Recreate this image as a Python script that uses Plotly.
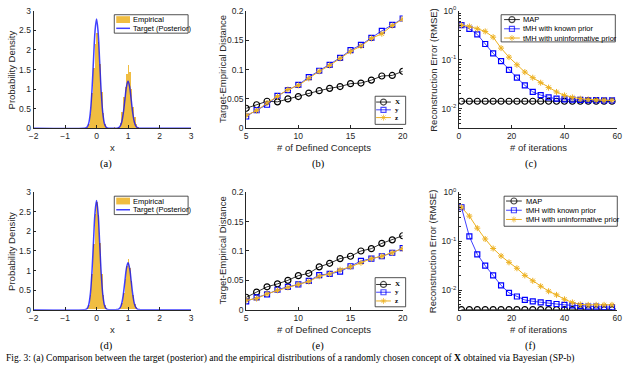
import plotly.graph_objects as go
from plotly.subplots import make_subplots

# ---- data ----
# (a)/(d) target posterior density
target_x = [-2, -0.4, -0.35, -0.3, -0.25, -0.2, -0.15, -0.1, -0.05, 0, 0.05, 0.1, 0.15, 0.2, 0.25, 0.3, 0.35, 0.4,
            0.6, 0.65, 0.7, 0.75, 0.8, 0.85, 0.9, 0.95, 1.0, 1.05, 1.1, 1.15, 1.2, 1.25, 1.3, 1.35, 1.4, 3]
target_y = [0, 0, 0.006, 0.031, 0.122, 0.378, 0.906, 1.69, 2.46, 2.79, 2.46, 1.69, 0.906, 0.378, 0.122, 0.031, 0.006, 0,
            0, 0.003, 0.013, 0.053, 0.16, 0.39, 0.73, 1.06, 1.2, 1.06, 0.73, 0.39, 0.16, 0.053, 0.013, 0.003, 0, 0]

# empirical histograms (bin centres, heights)
bins_a = [-0.35, -0.3, -0.25, -0.2, -0.15, -0.1, -0.05, 0, 0.05, 0.1, 0.15, 0.2, 0.25, 0.3, 0.35, 0.55,
          0.7, 0.75, 0.8, 0.85, 0.9, 0.95, 1.0, 1.05, 1.1, 1.15, 1.2, 1.25, 1.3]
hist_a = [0.01, 0.03, 0.12, 0.38, 0.9, 1.55, 2.15, 2.45, 2.2, 1.65, 0.92, 0.4, 0.12, 0.03, 0.01, 0.03,
          0.04, 0.15, 0.42, 0.8, 1.05, 1.4, 1.62, 1.45, 1.0, 0.55, 0.3, 0.1, 0.03]
bins_d = [-0.3, -0.25, -0.2, -0.15, -0.1, -0.05, 0, 0.05, 0.1, 0.15, 0.2, 0.25, 0.3, 0.35, 0.4, 0.45, 0.5, 0.55,
          0.6, 0.65, 0.7, 0.75, 0.8, 0.85, 0.9, 0.95, 1.0, 1.05, 1.1, 1.15, 1.2, 1.25, 1.3]
hist_d = [0.03, 0.12, 0.38, 0.9, 1.68, 2.45, 2.75, 2.4, 1.7, 0.9, 0.38, 0.12, 0.04, 0.02, 0.02, 0.02, 0.02, 0.02,
          0.02, 0.01, 0.02, 0.06, 0.17, 0.42, 0.78, 1.1, 1.3, 1.05, 0.72, 0.38, 0.15, 0.05, 0.02]

# (b)/(e) target-empirical distance vs number of concepts
concepts = list(range(5, 21))
b_X = [0.034, 0.040, 0.046, 0.045, 0.050, 0.054, 0.060, 0.064, 0.068, 0.071, 0.076, 0.077, 0.082, 0.089, 0.090, 0.097]
b_y = [0.020, 0.031, 0.040, 0.055, 0.065, 0.074, 0.087, 0.098, 0.108, 0.120, 0.133, 0.142, 0.154, 0.166, 0.176, 0.187]
b_z = [0.022, 0.030, 0.043, 0.054, 0.066, 0.073, 0.085, 0.097, 0.107, 0.119, 0.131, 0.140, 0.153, 0.161, 0.175, 0.186]
e_X = [0.021, 0.030, 0.039, 0.044, 0.050, 0.058, 0.062, 0.073, 0.079, 0.087, 0.091, 0.100, 0.104, 0.113, 0.119, 0.126]
e_y = [0.014, 0.021, 0.026, 0.034, 0.039, 0.043, 0.049, 0.059, 0.061, 0.065, 0.074, 0.083, 0.087, 0.091, 0.097, 0.105]
e_z = [0.016, 0.019, 0.027, 0.033, 0.038, 0.043, 0.048, 0.057, 0.061, 0.068, 0.073, 0.080, 0.087, 0.091, 0.097, 0.104]

# (c)/(f) reconstruction error vs iterations
iters = [1, 4, 7, 10, 13, 16, 19, 22, 25, 28, 31, 34, 37, 40, 43, 46, 49, 52, 55, 58]
c_map = [0.0142] * 20
c_known = [0.51, 0.43, 0.33, 0.21, 0.135, 0.094, 0.062, 0.043, 0.030, 0.022, 0.019, 0.017, 0.016, 0.0155, 0.0153,
           0.0151, 0.015, 0.0149, 0.0148, 0.0148]
c_uninf = [0.51, 0.48, 0.43, 0.38, 0.29, 0.173, 0.113, 0.079, 0.056, 0.043, 0.034, 0.027, 0.022, 0.0187, 0.017,
           0.016, 0.0155, 0.015, 0.0149, 0.0148]
f_map = [0.004] * 20
f_known = [0.495, 0.125, 0.054, 0.0316, 0.020, 0.0125, 0.0088, 0.0074, 0.0063, 0.0059, 0.0056, 0.0054, 0.0052,
           0.005, 0.0049, 0.0047, 0.0046, 0.0046, 0.0045, 0.0045]
f_uninf = [0.495, 0.326, 0.185, 0.111, 0.071, 0.050, 0.037, 0.028, 0.020, 0.0155, 0.012, 0.0095, 0.0080, 0.0065,
           0.0056, 0.0051, 0.005, 0.005, 0.005, 0.005]

W, H = 640, 370
ORANGE = "#EDB120"
BLUE = "rgba(0,0,255,0.75)"
AX = "#262626"
SANS = "Liberation Sans"
SERIF = "Liberation Serif"


def px(x):
    return x / W


def py(y):
    return 1 - y / H


# trace styles
STY = {
    "black": dict(line=dict(color="rgba(0,0,0,0.8)", width=1),
                  marker=dict(symbol="circle-open", size=6, color="black", line=dict(width=1.2))),
    "blue": dict(line=dict(color=BLUE, width=1),
                 marker=dict(symbol="square-open", size=5, color="blue", line=dict(width=1.2))),
    "orange": dict(line=dict(color=ORANGE, width=1),
                   marker=dict(symbol="asterisk-open", size=5, color=ORANGE, line=dict(width=1, color=ORANGE))),
}

fig = make_subplots(rows=2, cols=3)

for r, (hx, hy) in enumerate([(bins_a, hist_a), (bins_d, hist_d)]):
    fig.add_trace(go.Bar(x=hx, y=hy, width=0.05, name="Empirical",
                         marker=dict(color="rgba(237,177,32,0.85)", line=dict(width=0))), row=r + 1, col=1)
    fig.add_trace(go.Scatter(x=target_x, y=target_y, mode="lines", name="Target (Posterior)",
                             line=dict(color=BLUE, width=1.5, shape="spline")), row=r + 1, col=1)

for r, series in enumerate([(b_X, b_y, b_z), (e_X, e_y, e_z)]):
    for vals, st in zip(series, ["black", "blue", "orange"]):
        fig.add_trace(go.Scatter(x=concepts, y=vals, mode="lines+markers", **STY[st]), row=r + 1, col=2)

for r, series in enumerate([(c_map, c_known, c_uninf), (f_map, f_known, f_uninf)]):
    for vals, st in zip(series, ["black", "blue", "orange"]):
        fig.add_trace(go.Scatter(x=iters, y=vals, mode="lines+markers", **STY[st]), row=r + 1, col=3)

# axis placement (pixels -> paper)
cols_px = [(29, 189), (245, 404), (461, 622)]
rows_px = [(5, 126), (192, 313)]
axis_common = dict(showline=True, linecolor=AX, linewidth=0.8, ticks="inside", ticklen=3, tickcolor=AX,
                   showgrid=False, zeroline=False, tickfont=dict(family=SANS, size=8.5, color=AX))
n = 0
for r in range(2):
    for c in range(3):
        n += 1
        xa = "xaxis" if n == 1 else f"xaxis{n}"
        ya = "yaxis" if n == 1 else f"yaxis{n}"
        x0, x1 = cols_px[c]
        y0, y1 = rows_px[r]
        xd = dict(axis_common, domain=[px(x0), px(x1)])
        yd = dict(axis_common, domain=[py(y1), py(y0)])
        if c == 0:
            xd.update(range=[-2, 3], tickvals=[-2, -1, 0, 1, 2, 3])
            yd.update(range=[0, 3], tickvals=[0, 0.5, 1, 1.5, 2, 2.5, 3])
        elif c == 1:
            xd.update(range=[5, 20], tickvals=[5, 10, 15, 20])
            yd.update(range=[0, 0.2], tickvals=[0, 0.05, 0.1, 0.15, 0.2])
        else:
            xd.update(range=[0, 60], tickvals=[0, 20, 40, 60])
            yd.update(type="log", range=[-2.4, 0], tickvals=[0.01, 0.1, 1],
                      ticktext=["10<sup>-2</sup>", "10<sup>-1</sup>", "10<sup>0</sup>"],
                      minor=dict(ticks="inside", ticklen=2, tickcolor=AX, dtick="D1"))
        fig.layout[xa].update(xd)
        fig.layout[ya].update(yd)

# overlay axis in pixel units, used only for the legend keys
fig.update_layout(
    xaxis7=dict(domain=[0, 1], range=[0, W], visible=False, anchor="y7", fixedrange=True),
    yaxis7=dict(domain=[0, 1], range=[H, 0], visible=False, anchor="x7", fixedrange=True),
)

ann = []
shapes = []
lab_font = dict(family=SANS, size=9.5, color=AX)
xtitles = ["x", "# of Defined Concepts", "# of iterations"]
ytitles = ["Probability Density", "Target-Empirical Distance", "Reconstruction Error (RMSE)"]
ytitle_px = [7, 221, 435]
sub_px = [103, 318, 534]
letters = ["(a)", "(b)", "(c)", "(d)", "(e)", "(f)"]


def note(x, y, text, font, **kw):
    d = dict(x=px(x), y=py(y), text=text, showarrow=False, xref="paper", yref="paper",
             xanchor="center", yanchor="middle", font=font)
    d.update(kw)
    ann.append(d)


for r in range(2):
    y0, y1 = rows_px[r]
    for c in range(3):
        x0, x1 = cols_px[c]
        note((x0 + x1) / 2, y1 + 20, xtitles[c], lab_font)
        note(ytitle_px[c], (y0 + y1) / 2, ytitles[c], lab_font, textangle=-90)
        note(sub_px[c], y1 + 37, letters[r * 3 + c], dict(family=SERIF, size=10.5, color="black"))

# caption line at the bottom edge
note(0, 370, "Fig. 3: (a) Comparison between the target (posterior) and the empirical distributions of a randomly "
             "chosen concept of <b>X</b> obtained via Bayesian (SP-b)",
     dict(family=SERIF, size=9.5, color="black"), xanchor="left", yanchor="bottom", borderpad=0)

# legends: box (x0, y0, x1, y1), key start/end, text x, row y list, entries
leg_font = dict(family=SANS, size=7.5, color="black")
leg_serif = dict(family=SERIF, size=7, color="black")
legend_specs = [
    ((111, 9, 186, 28), (113, 127), 129, [14, 23], [("bar", "Empirical"), ("target", "Target (Posterior)")], leg_font),
    ((111, 196, 186, 215), (113, 127), 129, [201, 210], [("bar", "Empirical"), ("target", "Target (Posterior)")], leg_font),
    ((376, 93, 407, 122), (377, 392), 395, [99, 107, 115],
     [("black", "<b>X</b>"), ("blue", "<b>y</b>"), ("orange", "<b>z</b>")], leg_serif),
    ((376, 280, 407, 310), (377, 392), 395, [287, 295, 304],
     [("black", "<b>X</b>"), ("blue", "<b>y</b>"), ("orange", "<b>z</b>")], leg_serif),
    ((504, 9, 620, 37), (507, 523), 525, [14, 23.5, 33],
     [("black", "MAP"), ("blue", "tMH with known prior"), ("orange", "tMH with uninformative prior")], leg_font),
    ((507, 196, 622, 227), (509, 525), 528, [201, 210.5, 220],
     [("black", "MAP"), ("blue", "tMH with known prior"), ("orange", "tMH with uninformative prior")], leg_font),
]
for (bx0, by0, bx1, by1), (kx0, kx1), tx, rows, entries, fnt in legend_specs:
    shapes.append(dict(type="rect", xref="paper", yref="paper", x0=px(bx0), x1=px(bx1), y0=py(by1), y1=py(by0),
                       line=dict(color=AX, width=0.8), fillcolor="white", layer="below"))
    for ry, (kind, label) in zip(rows, entries):
        if kind == "bar":
            shapes.append(dict(type="rect", xref="paper", yref="paper", x0=px(kx0), x1=px(kx1),
                               y0=py(ry + 3.5), y1=py(ry - 3.5), line=dict(width=0),
                               fillcolor="rgba(237,177,32,0.85)", layer="above"))
        elif kind == "target":
            fig.add_trace(go.Scatter(x=[kx0, kx1], y=[ry, ry], mode="lines", xaxis="x7", yaxis="y7",
                                     line=dict(color=BLUE, width=1.5), hoverinfo="skip"))
        else:
            st = STY[kind]
            mk = dict(st["marker"])
            mk["size"] = [0, mk["size"], 0]
            fig.add_trace(go.Scatter(x=[kx0, (kx0 + kx1) / 2, kx1], y=[ry, ry, ry], mode="lines+markers",
                                     xaxis="x7", yaxis="y7", line=st["line"], marker=mk, hoverinfo="skip"))
        note(tx, ry, label, fnt, xanchor="left", borderpad=0)

fig.update_layout(
    width=W, height=H, margin=dict(l=0, r=0, t=0, b=0),
    paper_bgcolor="white", plot_bgcolor="rgba(0,0,0,0)", bargap=0, showlegend=False,
    annotations=ann, shapes=shapes,
)

fig.write_html("out.html", config={"displayModeBar": False},
               post_script="document.body.style.margin='0';document.body.style.overflow='hidden';")
